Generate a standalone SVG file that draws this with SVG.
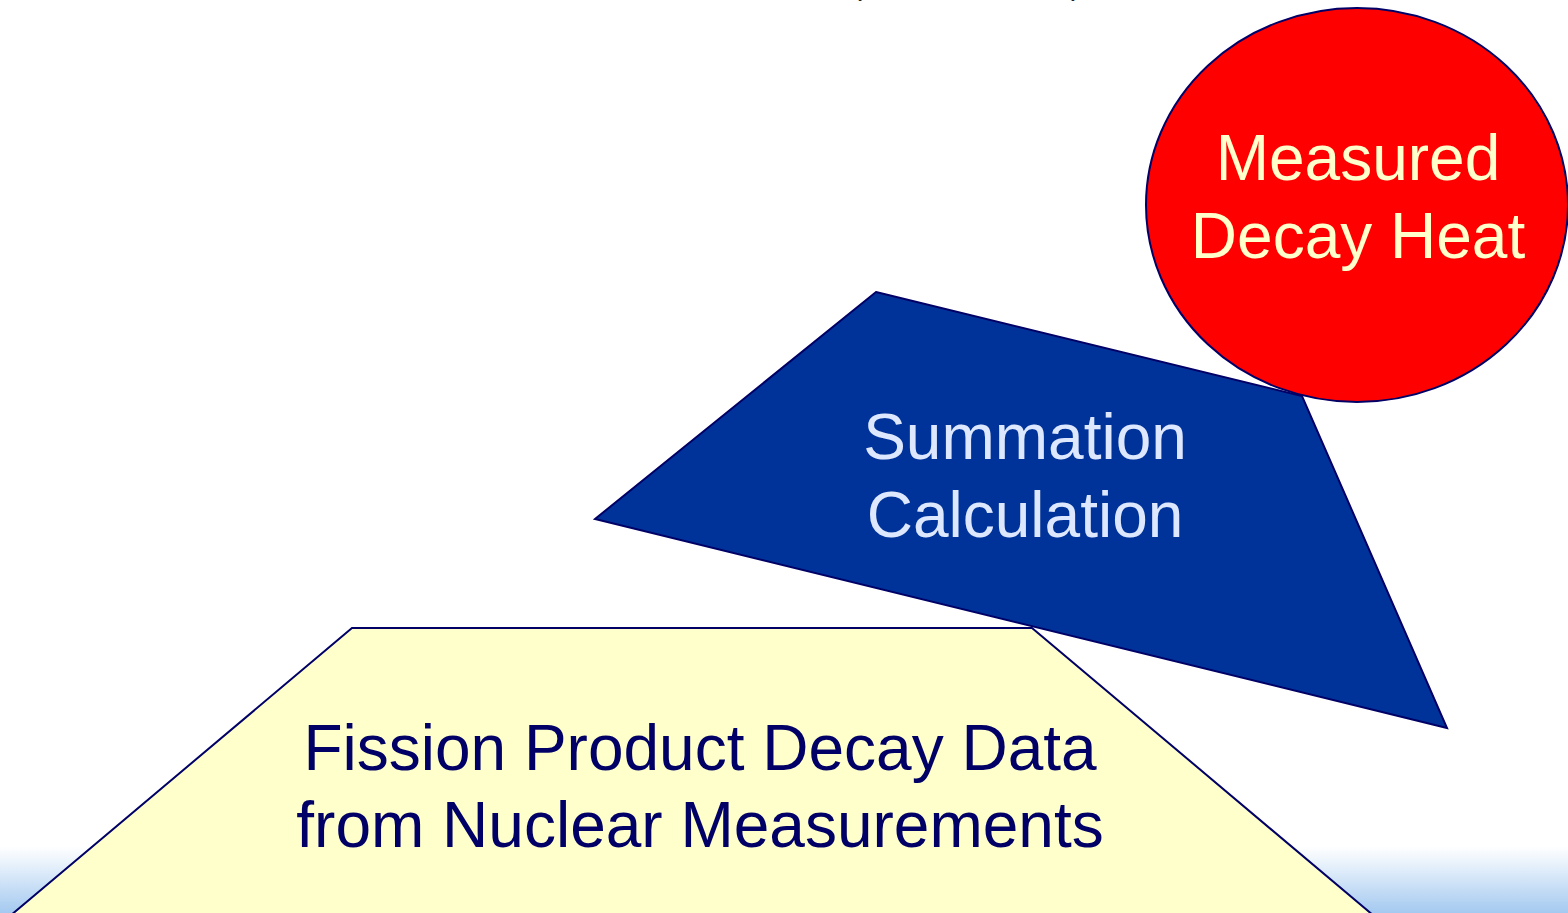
<svg xmlns="http://www.w3.org/2000/svg" width="1568" height="913" viewBox="0 0 1568 913">
  <defs>
    <linearGradient id="floor" x1="0" y1="0" x2="0" y2="1">
      <stop offset="0" stop-color="#ffffff"/>
      <stop offset="0.15" stop-color="#f3f8fd"/>
      <stop offset="1" stop-color="#a4c9f0"/>
    </linearGradient>
    <style>
      .lbl { font-family: "Liberation Sans", Arial, sans-serif; font-size: 64px; text-anchor: middle; }
      .edge { stroke: #000066; stroke-width: 2; stroke-linejoin: miter; }
    </style>
  </defs>

  <rect x="0" y="0" width="1568" height="913" fill="#ffffff"/>
  <!-- soft blue band along the bottom -->
  <rect x="0" y="846" width="1568" height="67" fill="url(#floor)"/>

  <!-- clipped heading brackets at the top edge -->
  <g id="heading" font-family="Liberation Sans, Arial, sans-serif" font-size="30" fill="#222222">
    <text x="852" y="-5">(</text>
    <text x="1071" y="-5">)</text>
  </g>

  <g id="connectors"></g>

  <g id="decay-data">
    <polygon class="edge" points="352,628 1032,628 1380,921 4,921" fill="#ffffcc"/>
    <text class="lbl" x="700" y="770" fill="#000066">Fission Product Decay Data</text>
    <text class="lbl" x="700" y="847" fill="#000066">from Nuclear Measurements</text>
  </g>

  <g id="summation">
    <polygon class="edge" points="876,292 1302,396 1447,728 595,519" fill="#003399"/>
    <text class="lbl" x="1025" y="459" fill="#dde8ff">Summation</text>
    <text class="lbl" x="1025" y="537" fill="#dde8ff">Calculation</text>
  </g>

  <g id="measured">
    <ellipse class="edge" cx="1357" cy="205" rx="211" ry="197" fill="#ff0000"/>
    <text class="lbl" x="1358" y="180" fill="#ffffcc">Measured</text>
    <text class="lbl" x="1358" y="258" fill="#ffffcc">Decay Heat</text>
  </g>
</svg>
